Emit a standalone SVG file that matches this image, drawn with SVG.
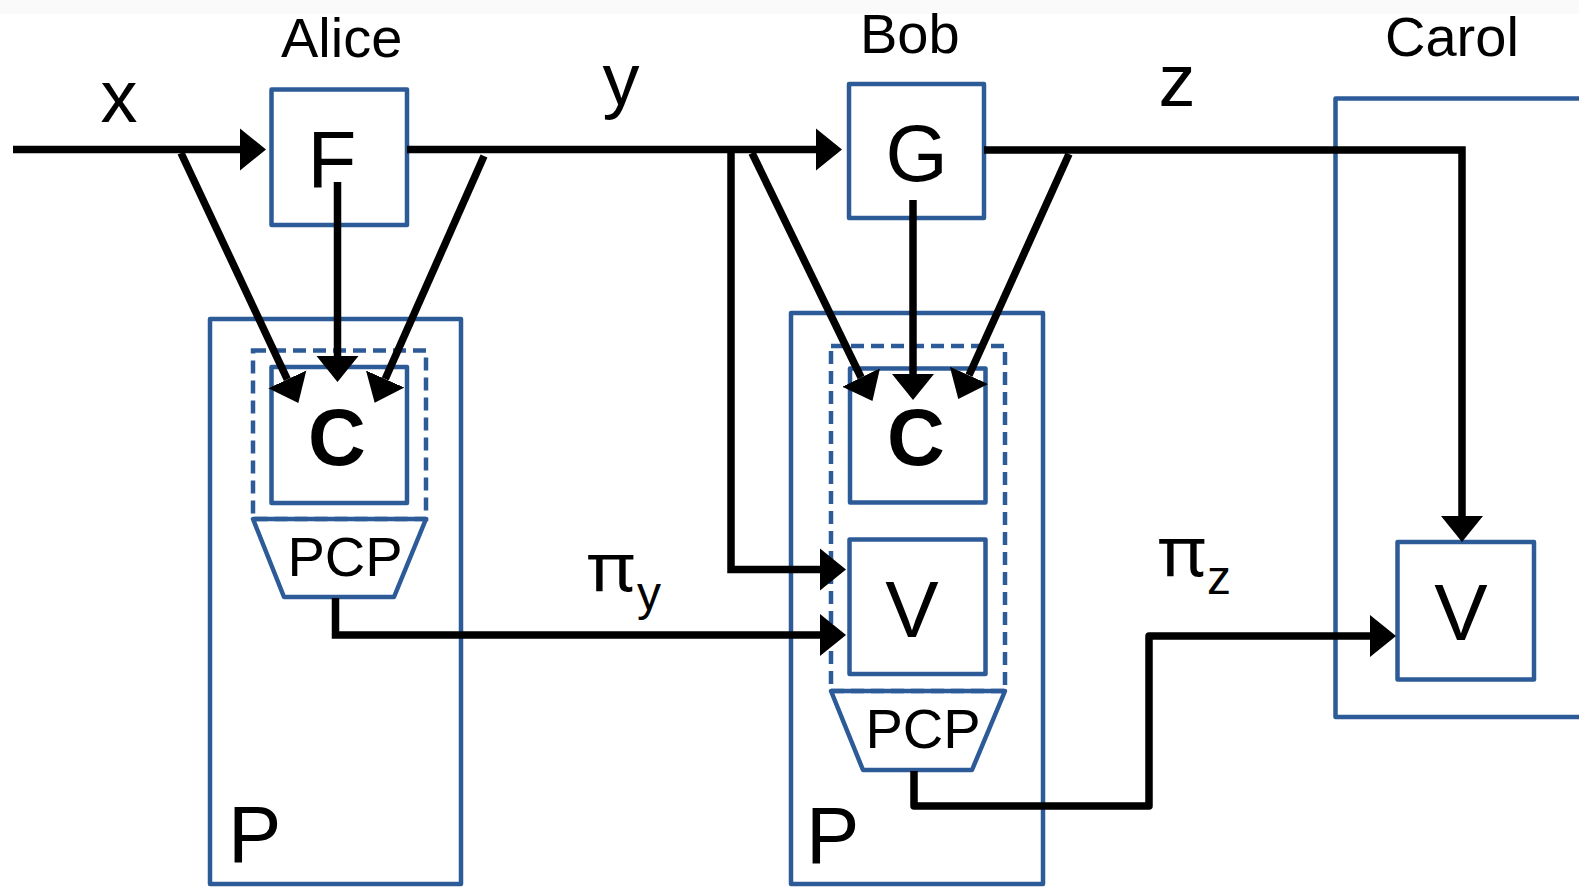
<svg xmlns="http://www.w3.org/2000/svg" width="1579" height="887" viewBox="0 0 1579 887">
<style>
.box{fill:none;stroke:#2D5B98;stroke-width:4.5;stroke-linejoin:round}
.dash{fill:none;stroke:#2D5B98;stroke-width:4.5;stroke-dasharray:13 7}
.ln{fill:none;stroke:#000;stroke-width:7.5;stroke-linejoin:miter}
.t{font-family:"Liberation Sans",Arial,sans-serif;fill:#000}
.pi{font-family:"Noto Sans",sans-serif;fill:#000}
</style>
<defs>
<marker id="ah" markerUnits="userSpaceOnUse" markerWidth="30" markerHeight="46" viewBox="0 -23 30 46" refX="0" refY="0" orient="auto">
<path d="M0,-21 L26,0 L0,21 z" fill="#000"/>
</marker>
</defs>
<rect x="0" y="0" width="1579" height="887" fill="#fff"/>
<rect x="0" y="0" width="1579" height="14" fill="#fafafa"/>

<g id="labels">
<text class="t" x="281" y="57" font-size="56">Alice</text>
<text class="t" x="860" y="53" font-size="56">Bob</text>
<text class="t" x="1385" y="56" font-size="56">Carol</text>
<text class="t" x="119" y="122" font-size="74" text-anchor="middle">x</text>
<text class="t" x="621" y="105" font-size="74" text-anchor="middle">y</text>
<text class="t" x="1177" y="106" font-size="74" text-anchor="middle">z</text>
<text class="pi" x="587" y="591" font-size="68" textLength="48" lengthAdjust="spacingAndGlyphs">π</text>
<text class="t" x="637" y="610" font-size="48">y</text>
<text class="pi" x="1158" y="576" font-size="70" textLength="48" lengthAdjust="spacingAndGlyphs">π</text>
<text class="t" x="1207" y="594" font-size="48">z</text>
</g>

<g id="alice-P">
<rect class="box" x="210" y="319" width="251" height="565"/>
<text class="t" x="228" y="862" font-size="80">P</text>
</g>
<g id="bob-P">
<rect class="box" x="791" y="313" width="252" height="571"/>
<text class="t" x="806" y="863" font-size="80">P</text>
</g>
<g id="carol-P">
<rect class="box" x="1335.5" y="98.5" width="300" height="618.5"/>
</g>

<g id="alice-F">
<rect class="box" x="271.5" y="89.5" width="135.5" height="135.5"/>
<text class="t" x="332" y="187" font-size="80" text-anchor="middle">F</text>
</g>
<g id="bob-G">
<rect class="box" x="849" y="84" width="135" height="134"/>
<text class="t" x="916.5" y="181" font-size="80" text-anchor="middle">G</text>
</g>

<g id="alice-PCP">
<rect class="dash" x="253" y="350.5" width="173" height="168.5"/>
<polygon class="box" points="253,519 426,519 394,597 284,597"/>
<text class="t" x="345" y="576" font-size="56" text-anchor="middle">PCP</text>
</g>
<g id="alice-C">
<rect class="box" x="271.5" y="367" width="135.5" height="136"/>
<text class="t" x="337" y="465" font-size="80" font-weight="bold" text-anchor="middle">C</text>
</g>

<g id="bob-PCP">
<rect class="dash" x="831" y="346" width="174" height="345"/>
<polygon class="box" points="831,691 1005,691 972,770 863,770"/>
<text class="t" x="923" y="748" font-size="56" text-anchor="middle">PCP</text>
</g>
<g id="bob-C">
<rect class="box" x="850" y="368.5" width="135.5" height="134"/>
<text class="t" x="916" y="465" font-size="80" font-weight="bold" text-anchor="middle">C</text>
</g>
<g id="bob-V">
<rect class="box" x="849.5" y="539.5" width="136" height="134.5"/>
<text class="t" x="912" y="637" font-size="80" text-anchor="middle">V</text>
</g>

<g id="carol-V">
<rect class="box" x="1397.5" y="542" width="136.5" height="137.5"/>
<text class="t" x="1461" y="640" font-size="80" text-anchor="middle">V</text>
</g>

<g id="connectors">
<path class="ln" d="M13,149.5 H240" marker-end="url(#ah)"/>
<path class="ln" d="M407,149.5 H816" marker-end="url(#ah)"/>
<path class="ln" d="M984,150 H1462 V516" marker-end="url(#ah)"/>
<path class="ln" d="M731,150 V569.5 H820" marker-end="url(#ah)"/>
<path class="ln" d="M335.5,598 V635 H820" marker-end="url(#ah)"/>
<path class="ln" d="M914,771 V806 H1149 V636 H1370" style="stroke-linejoin:round" marker-end="url(#ah)"/>
<path class="ln" d="M337.5,182 V356" marker-end="url(#ah)"/>
<path class="ln" d="M913,200 V374" marker-end="url(#ah)"/>
<path class="ln" d="M181,153 L287.3,379.4" marker-end="url(#ah)"/>
<path class="ln" d="M484,156 L385.2,379.1" marker-end="url(#ah)"/>
<path class="ln" d="M752,153 L861.1,377.5" marker-end="url(#ah)"/>
<path class="ln" d="M1069,154 L969,375.3" marker-end="url(#ah)"/>
</g>
</svg>
